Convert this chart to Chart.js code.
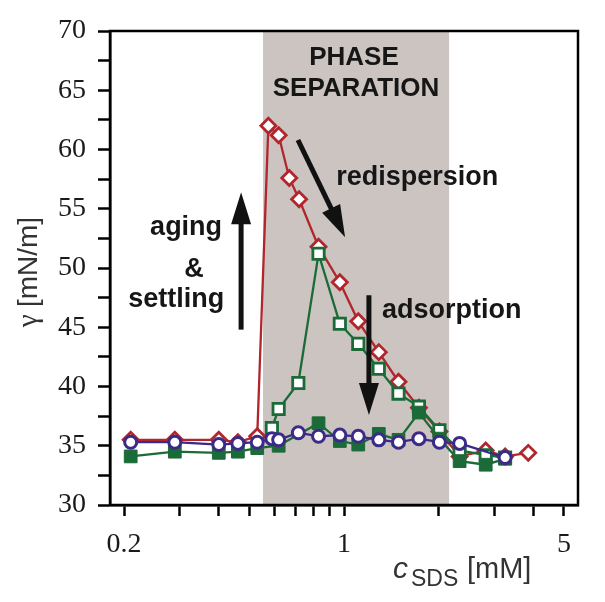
<!DOCTYPE html>
<html lang="en">
<head>
<meta charset="UTF-8">
<title>Surface tension vs SDS concentration</title>
<script src="https://cdn.jsdelivr.net/npm/chart.js"></script>
<style>
  html, body { margin: 0; padding: 0; background: #fff; }
</style>
</head>
<body>
<canvas id="gammaChart" width="605" height="602"></canvas>
<script>
// values: c_SDS [mM] vs gamma [mN/m]
const redX = [0.21, 0.29, 0.40, 0.46, 0.53, 0.575, 0.62, 0.67, 0.72, 0.83, 0.97, 1.11, 1.29, 1.49, 1.73, 2.01, 2.33, 2.82, 3.25, 3.85];
const redY = [35.5, 35.5, 35.5, 35.3, 35.8, 62.0, 61.2, 57.6, 55.8, 51.8, 48.8, 45.5, 42.9, 40.4, 38.2, 36.2, 34.1, 34.6, 34.1, 34.4];

const openX = [0.59, 0.62, 0.716, 0.83, 0.97, 1.11, 1.29, 1.49, 1.73, 2.01, 2.33, 2.82, 3.25];
const openY = [36.5, 38.1, 40.3, 51.2, 45.3, 43.6, 41.5, 39.4, 38.3, 36.3, 34.6, 34.2, 34.0];

const filledX = [0.21, 0.29, 0.40, 0.46, 0.53, 0.62, 0.83, 0.97, 1.11, 1.29, 1.49, 1.73, 2.01, 2.33, 2.82, 3.25];
const filledY = [34.1, 34.5, 34.4, 34.5, 34.8, 35.0, 36.9, 35.4, 35.1, 36.0, 35.5, 37.8, 35.6, 33.7, 33.4, 33.9];

const blueX = [0.21, 0.29, 0.40, 0.46, 0.53, 0.59, 0.62, 0.716, 0.83, 0.97, 1.11, 1.29, 1.49, 1.73, 2.01, 2.33, 3.25];
const blueY = [35.3, 35.3, 35.1, 35.2, 35.3, 35.6, 35.5, 36.1, 35.8, 35.9, 35.8, 35.5, 35.3, 35.6, 35.3, 35.2, 34.0];

const xTicks = [0.2, 0.3, 0.4, 0.5, 0.6, 0.7, 0.8, 0.9, 1, 2, 3, 4, 5];
const xTickLabels = { 0.2: '0.2', 1: '1', 5: '5' };
const phaseBand = [0.553, 2.157];

const pts = (xs, ys) => xs.map((x, i) => ({ x: x, y: ys[i] }));

const RED = '#b0262c', GREEN = '#1b6b38', BLUE = '#3b2a88';
const serif = "'Liberation Serif', 'Times New Roman', serif";
const sans = "'Liberation Sans', Arial, sans-serif";

// annotation text (data coords: x = c_SDS, y = gamma)
const notes = [
  { text: 'PHASE', x: 1.076, y: 67.1, align: 'center', size: 26 },
  { text: 'SEPARATION', x: 1.092, y: 64.5, align: 'center', size: 26 },
  { text: 'redispersion', x: 0.944, y: 57.0, align: 'left', size: 27 },
  { text: 'aging', x: 0.315, y: 52.8, align: 'center', size: 27 },
  { text: '&', x: 0.334, y: 49.2, align: 'center', size: 27 },
  { text: 'settling', x: 0.293, y: 46.7, align: 'center', size: 27 },
  { text: 'adsorption', x: 1.32, y: 45.8, align: 'left', size: 27 }
];
// arrows: from (x0,y0) to tip (x1,y1)
const arrows = [
  [0.471, 44.8, 0.471, 56.4],
  [0.714, 60.8, 1.008, 52.6],
  [1.20, 47.7, 1.20, 37.6]
];

function drawArrow(ctx, x0, y0, x1, y1) {
  const ang = Math.atan2(y1 - y0, x1 - x0);
  const len = Math.hypot(x1 - x0, y1 - y0);
  const headLen = 32, headW = 20, shaftW = 5;
  ctx.save();
  ctx.translate(x0, y0);
  ctx.rotate(ang);
  ctx.fillStyle = '#111';
  ctx.fillRect(0, -shaftW / 2, len - headLen + 2, shaftW);
  ctx.beginPath();
  ctx.moveTo(len, 0);
  ctx.lineTo(len - headLen, -headW / 2);
  ctx.lineTo(len - headLen, headW / 2);
  ctx.closePath();
  ctx.fill();
  ctx.restore();
}

const decorations = {
  id: 'decorations',
  beforeDatasetsDraw(chart) {
    const { ctx, chartArea: a, scales: { x } } = chart;
    const x0 = x.getPixelForValue(phaseBand[0]);
    const x1 = x.getPixelForValue(phaseBand[1]);
    ctx.save();
    ctx.fillStyle = '#cbc4c0';
    ctx.fillRect(x0, a.top, x1 - x0, a.bottom - a.top);
    ctx.restore();
  },
  afterDatasetsDraw(chart) {
    const { ctx, chartArea: a, scales: { x, y } } = chart;
    ctx.save();
    arrows.forEach(ar => drawArrow(ctx,
      x.getPixelForValue(ar[0]), y.getPixelForValue(ar[1]),
      x.getPixelForValue(ar[2]), y.getPixelForValue(ar[3])));

    ctx.fillStyle = '#161616';
    ctx.textBaseline = 'alphabetic';
    notes.forEach(n => {
      ctx.font = 'bold ' + n.size + 'px ' + sans;
      ctx.textAlign = n.align;
      ctx.fillText(n.text, x.getPixelForValue(n.x), y.getPixelForValue(n.y));
    });

    // frame
    ctx.strokeStyle = '#000';
    ctx.lineWidth = 2.5;
    ctx.strokeRect(a.left, a.top, a.right - a.left, a.bottom - a.top);

    // y title
    ctx.save();
    ctx.translate(37, 272);
    ctx.rotate(-Math.PI / 2);
    ctx.textAlign = 'left';
    const g = 'γ ';
    const rest = '[mN/m]';
    ctx.font = '29px ' + serif;
    const gw = ctx.measureText(g).width;
    ctx.font = '28px ' + sans;
    const rw = ctx.measureText(rest).width;
    const start = -(gw + rw) / 2;
    ctx.fillStyle = '#333';
    ctx.font = '29px ' + serif;
    ctx.fillText(g, start, 0);
    ctx.font = '28px ' + sans;
    ctx.fillText(rest, start + gw, 0);
    ctx.restore();

    // x title
    ctx.fillStyle = '#333';
    ctx.textAlign = 'left';
    ctx.font = 'italic 30px ' + sans;
    ctx.fillText('c', 393, 578);
    ctx.font = '23px ' + sans;
    ctx.fillText('SDS', 411, 586);
    ctx.font = '29px ' + sans;
    ctx.fillText('[mM]', 467, 578);
    ctx.restore();
  }
};

new Chart(document.getElementById('gammaChart'), {
  type: 'line',
  data: {
    datasets: [
      {
        label: 'blue', data: pts(blueX, blueY), order: 1,
        borderColor: BLUE, borderWidth: 2.3, pointStyle: 'circle', pointRadius: 6,
        pointBackgroundColor: '#fff', pointBorderColor: BLUE, pointBorderWidth: 3
      },
      {
        label: 'filled', data: pts(filledX, filledY), order: 2,
        borderColor: GREEN, borderWidth: 2.3, pointStyle: 'rect', pointRadius: 9,
        pointBackgroundColor: GREEN, pointBorderColor: GREEN, pointBorderWidth: 1
      },
      {
        label: 'open', data: pts(openX, openY), order: 3,
        borderColor: GREEN, borderWidth: 2.3, pointStyle: 'rect', pointRadius: 8,
        pointBackgroundColor: '#fff', pointBorderColor: GREEN, pointBorderWidth: 2.8
      },
      {
        label: 'red', data: pts(redX, redY), order: 4,
        borderColor: RED, borderWidth: 2.3, pointStyle: 'rectRot', pointRadius: 7.5,
        pointBackgroundColor: '#fff', pointBorderColor: RED, pointBorderWidth: 2.8
      }
    ]
  },
  options: {
    responsive: false,
    animation: false,
    layout: { padding: { top: 31, right: 27, left: 0, bottom: 0 } },
    plugins: { legend: { display: false }, tooltip: { enabled: false } },
    elements: { line: { tension: 0 } },
    scales: {
      x: {
        type: 'logarithmic',
        min: 0.1805, max: 5.54,
        afterFit(s) { s.height = 97; },
        afterBuildTicks(s) { s.ticks = xTicks.map(v => ({ value: v })); },
        border: { display: true, color: '#000', width: 2.5 },
        grid: { display: true, drawOnChartArea: false, drawTicks: true, tickLength: 11, tickColor: '#000', tickWidth: 2.5 },
        ticks: {
          autoSkip: false, maxRotation: 0, padding: 12,
          color: '#1a1a1a', font: { family: serif, size: 28 },
          callback: v => xTickLabels[v] || ''
        }
      },
      y: {
        min: 30, max: 70,
        afterFit(s) { s.width = 110; },
        border: { display: true, color: '#000', width: 2.5 },
        grid: { display: true, drawOnChartArea: false, drawTicks: true, tickLength: 12, tickColor: '#000', tickWidth: 2.5 },
        ticks: {
          stepSize: 2.5, padding: 12, autoSkip: false,
          color: '#1a1a1a', font: { family: serif, size: 28 },
          callback: v => (v % 5 === 0 ? String(v) : '')
        }
      }
    }
  },
  plugins: [decorations]
});
</script>
</body>
</html>
